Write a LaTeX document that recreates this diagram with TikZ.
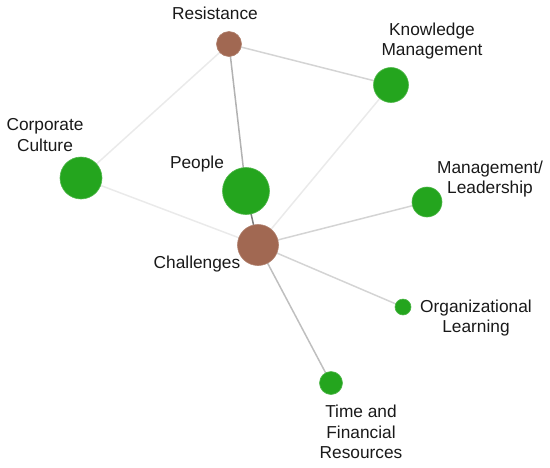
\documentclass[tikz,border=0pt]{standalone}
\usepackage{fontspec}
\setmainfont{Liberation Sans}
\usetikzlibrary{backgrounds}
\definecolor{nodegreen}{RGB}{36,165,30}
\definecolor{nodebrown}{RGB}{161,104,82}
\definecolor{edgea}{RGB}{212,212,212}
\definecolor{edgeb}{RGB}{234,234,234}
\definecolor{edgec}{RGB}{178,178,178}
\definecolor{edged}{RGB}{125,125,125}
\begin{document}
\begin{tikzpicture}[x=1pt,y=-1pt,
  gnode/.style={circle,fill=nodegreen,draw=nodegreen!80!white,line width=0.6pt,inner sep=0pt},
  bnode/.style={circle,fill=nodebrown,draw=nodebrown!85!white,line width=0.6pt,inner sep=0pt},
  lbl/.style={font=\fontsize{17.3}{20.5}\selectfont,align=center,inner sep=0pt,text=black!90},
  edge/.style={line width=1.5pt,draw=edgea}]
\useasboundingbox (0,0) rectangle (550,467);
% nodes
\node[bnode,minimum size=25pt] (res) at (229,44) {};
\node[gnode,minimum size=35pt] (km) at (391,85) {};
\node[gnode,minimum size=42pt] (cc) at (81,178) {};
\node[gnode,minimum size=47pt] (ppl) at (246,191) {};
\node[bnode,minimum size=41pt] (ch) at (258,245) {};
\node[gnode,minimum size=30pt] (ml) at (427,202) {};
\node[gnode,minimum size=16pt] (ol) at (403,307) {};
\node[gnode,minimum size=23pt] (tf) at (331,383) {};
% edges
\begin{scope}[on background layer]
\draw[edge] (res.center) -- (km.center);
\draw[edge,draw=edgeb] (res.center) -- (cc.center);
\draw[edge,draw=edgec] (res.center) -- (ppl.center);
\draw[edge,draw=edged] (ppl.center) -- (ch.center);
\draw[edge,draw=edgeb] (km.center) -- (ch.center);
\draw[edge,draw=edgeb] (cc.center) -- (ch.center);
\draw[edge] (ch.center) -- (ml.center);
\draw[edge] (ch.center) -- (ol.center);
\draw[edge,draw=edgea!90!black] (ch.center) -- (tf.center);
\end{scope}
% labels
\node[lbl] (lres) at (215,13) {Resistance};
\node[lbl] (lkm) at (432,41) {Knowledge\\Management};
\node[lbl] (lcc) at (45,135) {Corporate\\Culture};
\node[lbl] (lppl) at (197,164) {People};
\node[lbl] (lch) at (197,264) {Challenges};
\node[lbl] (lml) at (490,179) {Management/\\Leadership};
\node[lbl] (lol) at (476,318) {Organizational\\Learning};
\node[lbl] (ltf) at (361,432) {Time and\\Financial\\Resources};
\end{tikzpicture}
\end{document}
